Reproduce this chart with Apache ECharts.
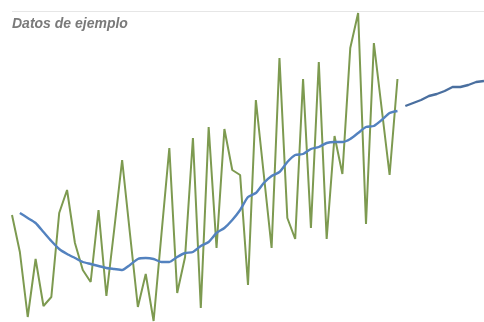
<!DOCTYPE html>
<html>
<head>
<meta charset="utf-8">
<script src="https://cdn.jsdelivr.net/npm/echarts@6/dist/echarts.min.js"></script>
<style>html,body{margin:0;padding:0;background:#fff}#c{width:484px;height:322px}</style>
</head>
<body>
<div id="c"></div>
<script>
var titleText = 'Datos de ejemplo';
var categories = [];
for (var i = 1; i <= 61; i++) categories.push(String(i));
var observed = [107,70,5,63,16,25,109,132,79,52,40,112,26,93,162,88,15,48,1,88,174,29,65,184,14,195,74,193,152,147,37,222,148,74,264,104,83,243,94,260,83,186,148,274,309,98,279,213,147,243];
var trend = [null,109,104,99,90,81,73,68,64,60,58,56,54,53,52,57,63,64,63,60,60,65,69,70,76,80,89,94,102,112,125,129,139,146,150,160,167,168,173,175,179,180,180,183,189,195,196,202,209,211];
var forecast = [216,219,222,226,228,231,235,235,237,240,241];

function pad(arr, before, total) {
  var out = [];
  for (var k = 0; k < before; k++) out.push('-');
  for (var j = 0; j < arr.length; j++) out.push(arr[j] === null ? '-' : arr[j]);
  while (out.length < total) out.push('-');
  return out;
}

var chart = echarts.init(document.getElementById('c'), null, {renderer: 'canvas'});
chart.setOption({
  animation: false,
  backgroundColor: '#ffffff',
  title: {
    text: titleText,
    left: 12,
    top: 17,
    padding: 0,
    textStyle: {fontFamily: 'Liberation Sans, Arial, sans-serif', fontSize: 14, fontWeight: 'bold', fontStyle: 'italic', color: '#7a7a7a'}
  },
  graphic: [{
    type: 'line', shape: {x1: 12, y1: 11.5, x2: 484, y2: 11.5},
    style: {stroke: '#e6e6e6', lineWidth: 1}, silent: true
  }],
  grid: {left: 12, top: 11, width: 473, bottom: 0},
  xAxis: {
    type: 'category', data: categories, boundaryGap: false,
    axisLine: {show: false}, axisTick: {show: false}, axisLabel: {show: false}, splitLine: {show: false}
  },
  yAxis: {
    type: 'value', min: 0, max: 311,
    axisLine: {show: false}, axisTick: {show: false}, axisLabel: {show: false}, splitLine: {show: false}
  },
  series: [
    {type: 'line', data: pad(observed, 0, 61), showSymbol: false, symbol: 'none',
     lineStyle: {color: '#7d9a50', width: 2}, z: 2},
    {type: 'line', data: pad(trend, 0, 61), showSymbol: false, symbol: 'none', smooth: 0.2,
     lineStyle: {color: '#5382bf', width: 2.4}, z: 3},
    {type: 'line', data: pad(forecast, 50, 61), showSymbol: false, symbol: 'none',
     lineStyle: {color: '#4a6f9f', width: 2.4}, z: 3}
  ]
});
</script>
</body>
</html>
